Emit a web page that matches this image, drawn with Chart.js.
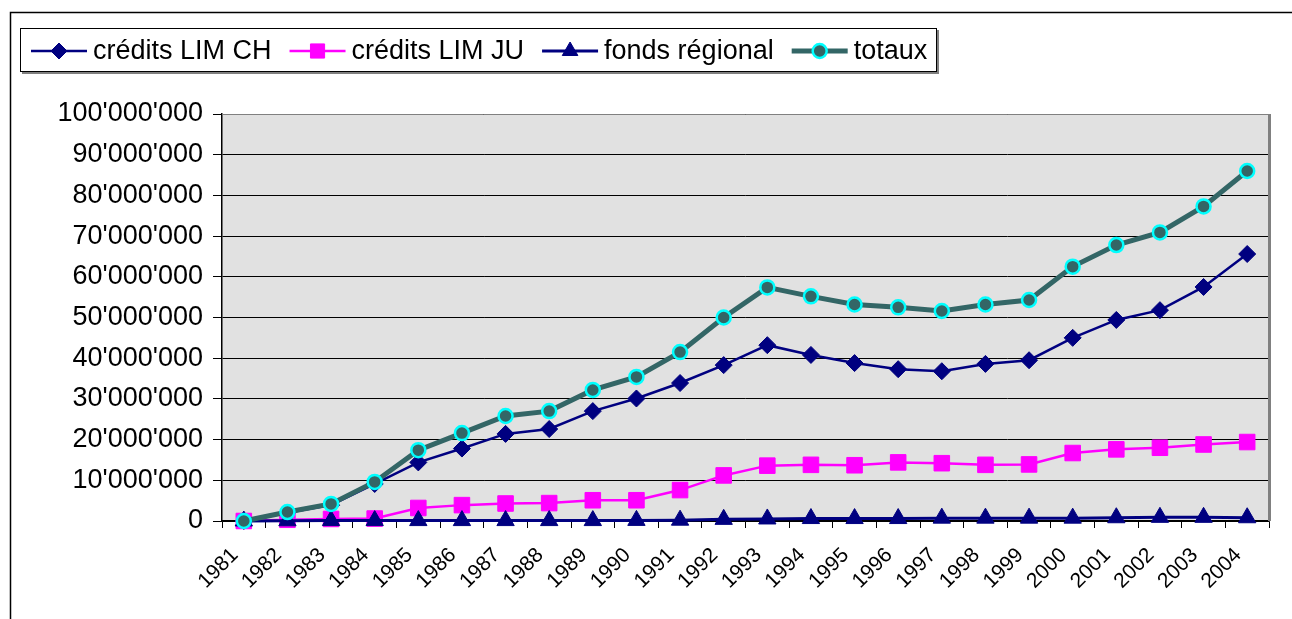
<!DOCTYPE html>
<html>
<head>
<meta charset="utf-8">
<script src="https://cdn.jsdelivr.net/npm/chart.js@4.4.0/dist/chart.umd.min.js"></script>
<style>
  html, body { margin: 0; padding: 0; background: #fff; }
  #wrap { width: 1292px; height: 619px; position: relative; }
</style>
</head>
<body>
<div id="wrap"><canvas id="chart" width="1292" height="619"></canvas></div>
<script>
const years = ["1981", "1982", "1983", "1984", "1985", "1986", "1987", "1988", "1989", "1990", "1991", "1992",
  "1993", "1994", "1995", "1996", "1997", "1998", "1999", "2000", "2001", "2002", "2003", "2004"];

const creditsCH = [0, 2000000, 3900000, 9100000, 14400000, 17800000, 21400000, 22600000, 27000000, 30100000, 33900000, 38300000,
  43200000, 40800000, 38800000, 37300000, 36800000, 38600000, 39500000, 45000000, 49400000, 51800000, 57500000, 65600000];
const creditsJU = [0, 300000, 500000, 600000, 3200000, 3900000, 4300000, 4400000, 5100000, 5100000, 7600000, 11200000,
  13600000, 13800000, 13700000, 14400000, 14200000, 13800000, 13900000, 16700000, 17600000, 18000000, 18800000, 19400000];
const fondsRegional = [0, 50000, 100000, 100000, 100000, 100000, 100000, 100000, 100000, 150000, 200000, 400000,
  500000, 600000, 600000, 600000, 700000, 700000, 700000, 700000, 800000, 900000, 900000, 800000];
const totaux = [0, 2200000, 4200000, 9600000, 17400000, 21600000, 25800000, 27000000, 32200000, 35400000, 41500000, 50000000,
  57400000, 55200000, 53200000, 52500000, 51600000, 53200000, 54300000, 62500000, 67800000, 70900000, 77300000, 86000000];

const yTicks = [0, 10000000, 20000000, 30000000, 40000000, 50000000, 60000000, 70000000, 80000000, 90000000, 100000000];

const FONT = "'Liberation Sans', Arial, sans-serif";

function fmt(v) {
  return String(Math.round(v)).replace(/\B(?=(\d{3})+(?!\d))/g, "'");
}

const series = [
  { label: "crédits LIM CH", data: creditsCH, color: "#000080", width: 2.5, style: "rectRot", radius: 8.5, legendRadius: 8, fill: "#000080", border: "#000080", bw: 1 },
  { label: "crédits LIM JU", data: creditsJU, color: "#ff00ff", width: 2.5, style: "rect", radius: 11, legendRadius: 10, fill: "#ff00ff", border: "#ff00ff", bw: 1 },
  { label: "fonds régional", data: fondsRegional, color: "#000080", width: 3, style: "triangle", radius: 10, legendRadius: 9, fill: "#000080", border: "#000080", bw: 1 },
  { label: "totaux", data: totaux, color: "#336666", width: 5, style: "circle", radius: 7, legendRadius: 7, fill: "#336666", border: "#00ffff", bw: 2.5 }
];

// frame, plot background, plot border and legend
const decor = {
  id: "decor",
  beforeDraw(chart) {
    const ctx = chart.ctx, a = chart.chartArea;
    ctx.save();
    ctx.fillStyle = "#fff";
    ctx.fillRect(0, 0, chart.width, chart.height);
    ctx.strokeStyle = "#000";
    ctx.lineWidth = 1.5;
    ctx.strokeRect(10.5, 12.5, 1400, 800);
    ctx.fillStyle = "#e1e1e1";
    ctx.fillRect(a.left, a.top, a.right - a.left, a.bottom - a.top);
    ctx.restore();
  },
  afterDatasetsDraw(chart) {
    const ctx = chart.ctx, a = chart.chartArea;
    ctx.save();
    ctx.strokeStyle = "#808080";
    ctx.lineWidth = 1;
    ctx.beginPath();
    ctx.moveTo(a.left, a.top + 0.5);
    ctx.lineTo(a.right, a.top + 0.5);
    ctx.stroke();
    ctx.lineWidth = 3;
    ctx.beginPath();
    ctx.moveTo(a.right + 0.5, a.top);
    ctx.lineTo(a.right + 0.5, a.bottom);
    ctx.stroke();
    ctx.restore();
  },
  afterDraw(chart) {
    const ctx = chart.ctx;
    ctx.save();
    // legend box with shadow
    ctx.fillStyle = "#808080";
    ctx.fillRect(22, 30, 917, 44);
    ctx.fillStyle = "#fff";
    ctx.fillRect(20, 28, 917, 44);
    ctx.strokeStyle = "#000";
    ctx.lineWidth = 1;
    ctx.strokeRect(20.5, 28.5, 916, 43);
    ctx.font = "27px " + FONT;
    ctx.textBaseline = "middle";
    let x = 31;
    const y = 51;
    series.forEach(s => {
      ctx.strokeStyle = s.color;
      ctx.lineWidth = s.width;
      ctx.beginPath();
      ctx.moveTo(x, y);
      ctx.lineTo(x + 56, y);
      ctx.stroke();
      ctx.fillStyle = s.fill;
      ctx.strokeStyle = s.border;
      ctx.lineWidth = s.bw;
      Chart.helpers.drawPoint(ctx, { pointStyle: s.style, radius: s.legendRadius, borderWidth: s.bw, rotation: 0 }, x + 28, y);
      ctx.fillStyle = "#000";
      ctx.fillText(s.label, x + 62, y + 1);
      x += 62 + ctx.measureText(s.label).width + 18;
    });
    ctx.restore();
  }
};

new Chart(document.getElementById("chart"), {
  type: "line",
  data: {
    labels: years,
    datasets: series.map((s, i) => ({
      label: s.label,
      data: s.data,
      borderColor: s.color,
      borderWidth: s.width,
      pointStyle: s.style,
      pointRadius: s.radius,
      pointBackgroundColor: s.fill,
      pointBorderColor: s.border,
      pointBorderWidth: s.bw,
      tension: 0,
      clip: false,
      order: series.length - i
    }))
  },
  options: {
    responsive: false,
    animation: false,
    devicePixelRatio: 1,
    layout: { padding: { left: 0, right: 23, top: 114, bottom: 0 } },
    plugins: { legend: { display: false }, tooltip: { enabled: false } },
    scales: {
      x: {
        offset: true,
        grid: { offset: true, drawOnChartArea: false, drawTicks: true, tickLength: 7, color: "#000" },
        border: { color: "#000", width: 1.5 },
        ticks: { color: "#000", font: { family: FONT, size: 21 }, minRotation: 45, maxRotation: 45, autoSkip: false, padding: 15, labelOffset: -9 },
        afterFit(scale) { scale.height = 98; }
      },
      y: {
        min: 0,
        max: 100000000,
        afterBuildTicks(scale) { scale.ticks = yTicks.map(v => ({ value: v })); },
        grid: { color: "#000", lineWidth: 1, tickLength: 9 },
        border: { color: "#000", width: 1.5 },
        ticks: { color: "#000", font: { family: FONT, size: 27 }, padding: 10, callback: v => fmt(v) },
        afterFit(scale) { scale.width = 222; }
      }
    }
  },
  plugins: [decor]
});
</script>
</body>
</html>
